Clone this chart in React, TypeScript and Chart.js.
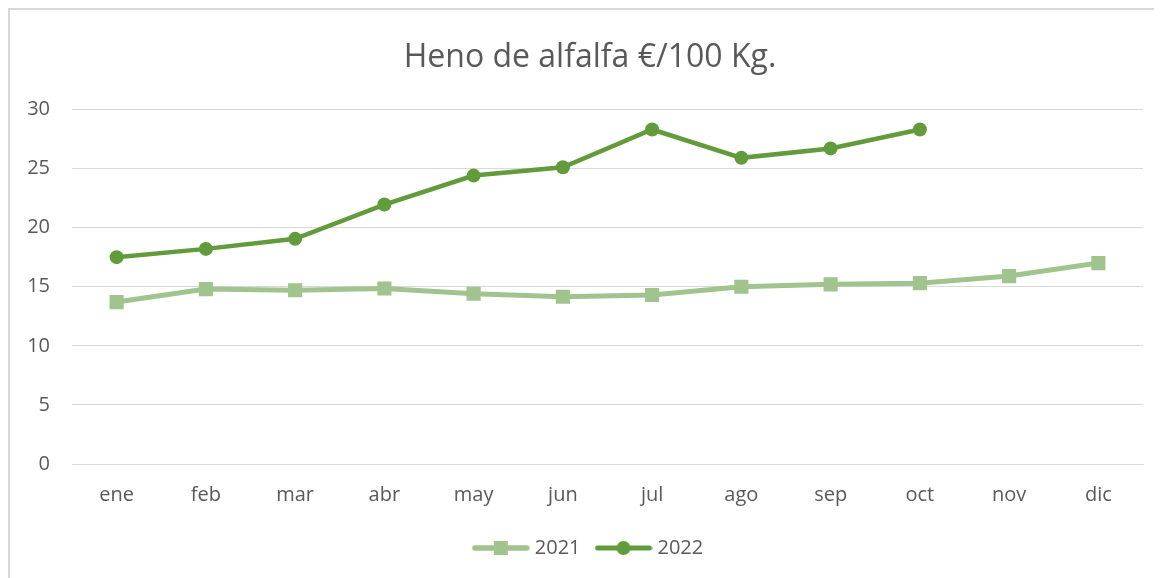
import React, { useEffect, useRef } from "react";
import { Chart, registerables } from "chart.js";

Chart.register(...registerables);

const months = ["ene", "feb", "mar", "abr", "may", "jun", "jul", "ago", "sep", "oct", "nov", "dic"];
const values2021 = [13.7, 14.8, 14.7, 14.85, 14.4, 14.15, 14.3, 15.0, 15.2, 15.3, 15.9, 17.0];
const values2022 = [17.5, 18.2, 19.05, 21.95, 24.4, 25.1, 28.3, 25.9, 26.7, 28.3, null, null];
const yTicks = [0, 5, 10, 15, 20, 25, 30];

const color2021 = "#A1C48F";
const color2022 = "#629B3C";
const textColor = "#595959";
const gridColor = "#D9D9D9";
const fontFamily = "'Open Sans', 'Noto Sans', sans-serif";

function legendImage(color: string, shape: "rect" | "circle", lineW: number) {
  const c = document.createElement("canvas");
  c.width = 58;
  c.height = 16;
  const ctx = c.getContext("2d")!;
  ctx.strokeStyle = color;
  ctx.lineWidth = lineW;
  ctx.lineCap = "round";
  ctx.beginPath();
  ctx.moveTo(3, 8);
  ctx.lineTo(55, 8);
  ctx.stroke();
  ctx.fillStyle = color;
  if (shape === "rect") {
    ctx.fillRect(22, 1, 14, 14);
  } else {
    ctx.beginPath();
    ctx.arc(29, 8, 7, 0, Math.PI * 2);
    ctx.fill();
  }
  return c;
}

export default function App() {
  const ref = useRef<HTMLCanvasElement | null>(null);

  useEffect(() => {
    document.body.style.overflow = "hidden";
    if (!ref.current) return;
    const img2021 = legendImage(color2021, "rect", 5.5);
    const img2022 = legendImage(color2022, "circle", 5);
    const chart = new Chart(ref.current, {
      type: "line",
      data: {
        labels: months,
        datasets: [
          {
            label: "2021",
            data: values2021,
            borderColor: color2021,
            backgroundColor: color2021,
            borderWidth: 5,
            pointStyle: "rect",
            pointRadius: 10,
            pointBorderWidth: 0,
            tension: 0,
          },
          {
            label: "2022",
            data: values2022,
            borderColor: color2022,
            backgroundColor: color2022,
            borderWidth: 4.5,
            pointStyle: "circle",
            pointRadius: 7,
            pointBorderWidth: 0,
            tension: 0,
          },
        ],
      },
      options: {
        animation: false,
        responsive: false,
        maintainAspectRatio: false,
        layout: { padding: { left: 0, right: 0, top: 0, bottom: 10 } },
        plugins: {
          title: {
            display: true,
            text: "Heno de alfalfa €/100 Kg.",
            color: textColor,
            font: { family: fontFamily, size: 32, weight: "normal", lineHeight: 1.2 },
            padding: { top: 29, bottom: 32 },
          },
          legend: {
            position: "bottom",
            labels: {
              color: textColor,
              font: { family: fontFamily, size: 20 },
              usePointStyle: true,
              pointStyleWidth: 48,
              boxHeight: 16,
              padding: 19,
              generateLabels: (ch: any) =>
                ch.data.datasets.map((ds: any, i: number) => ({
                  text: ds.label,
                  fillStyle: ds.backgroundColor,
                  strokeStyle: ds.borderColor,
                  lineWidth: 0,
                  pointStyle: i === 0 ? img2021 : img2022,
                  hidden: false,
                  datasetIndex: i,
                  fontColor: textColor,
                })),
            },
          },
          tooltip: { enabled: false },
        },
        scales: {
          x: {
            offset: true,
            grid: { display: false, drawTicks: false, offset: true },
            border: { display: true, color: gridColor, width: 1 },
            ticks: {
              color: textColor,
              font: { family: fontFamily, size: 20 },
              padding: 19,
              maxRotation: 0,
            },
            afterFit: (s: any) => {
              s.height = 55;
            },
          },
          y: {
            min: 0,
            max: 30,
            afterBuildTicks: (s: any) => {
              s.ticks = yTicks.map((v) => ({ value: v }));
            },
            grid: { color: gridColor, lineWidth: 1, drawTicks: false },
            border: { display: false },
            ticks: {
              color: textColor,
              font: { family: fontFamily, size: 20 },
              padding: 22,
            },
            afterFit: (s: any) => {
              s.width = 62;
            },
          },
          yRight: {
            position: "right",
            display: true,
            min: 0,
            max: 30,
            grid: { display: false, drawTicks: false },
            border: { display: false },
            ticks: { display: false },
            afterFit: (s: any) => {
              s.width = 27;
            },
          },
        },
      },
    });
    return () => chart.destroy();
  }, []);

  return (
    <div
      style={{
        width: 1154,
        height: 570,
        boxSizing: "border-box",
        borderLeft: "2px solid #D9D9D9",
        borderTop: "2px solid #D9D9D9",
        background: "#fff",
        overflow: "hidden",
      }}
    >
      <canvas ref={ref} width={1160} height={568} style={{ display: "block" }} />
    </div>
  );
}
